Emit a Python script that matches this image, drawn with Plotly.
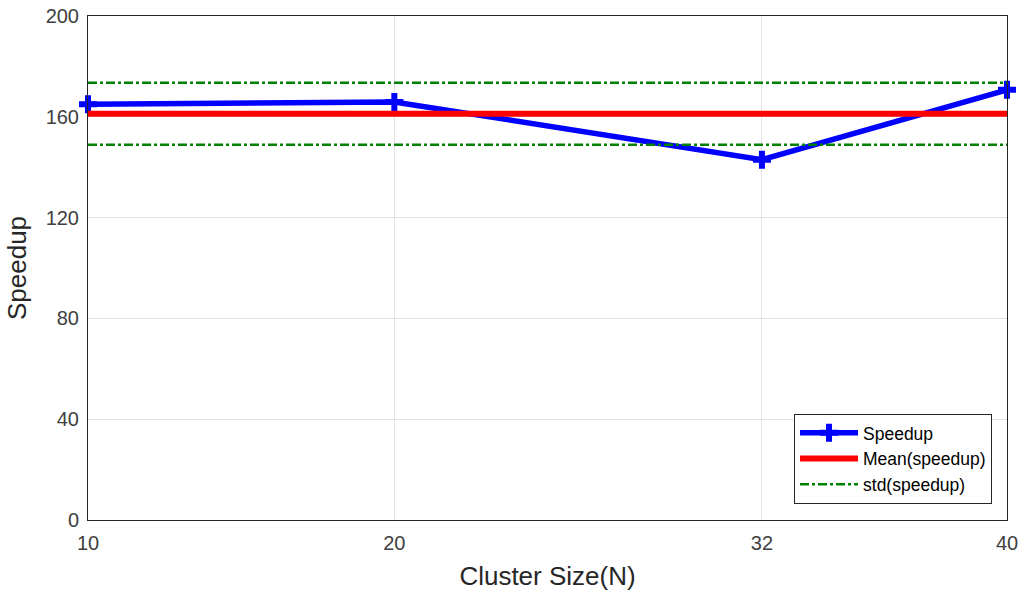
import plotly.graph_objects as go

cluster_size = [10, 20, 32, 40]
speedup = [165.0, 165.9, 143.0, 170.7]
mean_speedup = 161.2
std_speedup = 12.3
x_ticks = [10, 20, 32, 40]
y_ticks = [0, 40, 80, 120, 160, 200]

x_span = [cluster_size[0], cluster_size[-1]]
FONT = "Liberation Sans, Arial, sans-serif"

fig = go.Figure()
fig.add_trace(go.Scatter(
    x=cluster_size, y=speedup, mode="lines+markers", name="Speedup",
    line=dict(color="#0000ff", width=5.5),
    marker=dict(symbol="cross", size=15, color="#0000ff"),
    cliponaxis=False,
))
fig.add_trace(go.Scatter(
    x=x_span, y=[mean_speedup] * 2, mode="lines", name="Mean(speedup)",
    line=dict(color="#ff0000", width=6),
    cliponaxis=False,
))
fig.add_trace(go.Scatter(
    x=x_span, y=[mean_speedup + std_speedup] * 2, mode="lines", name="std(speedup)",
    line=dict(color="#008000", width=2.5, dash="dashdot"),
    legendgroup="std",
))
fig.add_trace(go.Scatter(
    x=x_span, y=[mean_speedup - std_speedup] * 2, mode="lines", name="std(speedup)",
    line=dict(color="#008000", width=2.5, dash="dashdot"),
    legendgroup="std", showlegend=False,
))

axis_common = dict(
    showline=True, linecolor="#262626", linewidth=1, mirror=True,
    showgrid=True, gridcolor="#e3e3e3", gridwidth=1,
    zeroline=False, ticks="outside", tickcolor="rgba(0,0,0,0)",
    automargin=False, ticklabeloverflow="allow",
    tickfont=dict(family=FONT, size=20, color="#404040"),
)

fig.update_layout(
    width=1023, height=596,
    margin=dict(l=88, r=16, t=16, b=76),
    paper_bgcolor="white", plot_bgcolor="white",
    font=dict(family=FONT, color="#262626"),
    xaxis=dict(
        range=[10, 40], tickvals=x_ticks, ticktext=[str(v) for v in x_ticks],
        ticklen=5,
        title=dict(text="Cluster Size(N)", font=dict(size=26, color="#262626"), standoff=13),
        **axis_common,
    ),
    yaxis=dict(
        range=[0, 200], tickvals=y_ticks, ticklen=4,
        title=dict(text="Speedup", font=dict(size=26, color="#262626"), standoff=11),
        **axis_common,
    ),
    legend=dict(
        x=0.9837, y=0.032, xanchor="right", yanchor="bottom",
        bgcolor="white", bordercolor="#262626", borderwidth=1,
        font=dict(family=FONT, size=17.5, color="#000000"),
        tracegroupgap=0, itemwidth=58,
    ),
    showlegend=True,
)

fig.write_html("out.html", config={"displayModeBar": False},
               post_script="document.body.style.margin='0px';")
